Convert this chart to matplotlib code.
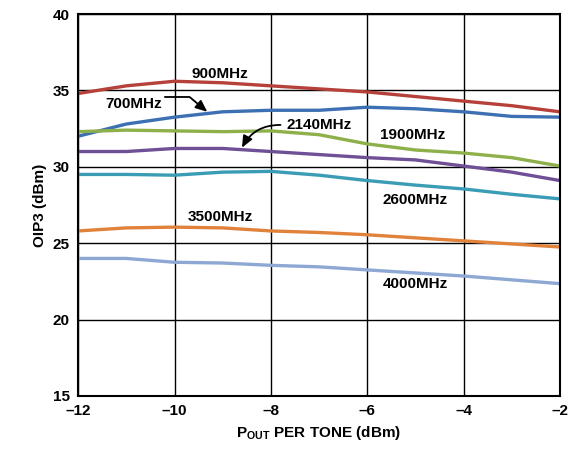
import numpy as np
import matplotlib.pyplot as plt

plt.rcParams['font.family'] = ['Liberation Sans', 'DejaVu Sans']
plt.rcParams['font.weight'] = 'bold'
plt.rcParams['mathtext.fontset'] = 'custom'
plt.rcParams['mathtext.rm'] = 'Liberation Sans:bold'
plt.rcParams['mathtext.bf'] = 'Liberation Sans:bold'

# output power per tone (dBm)
pout = [-12, -11, -10, -9, -8, -7, -6, -5, -4, -3, -2]

# OIP3 (dBm) per frequency
oip3_700 = [32.0, 32.8, 33.25, 33.6, 33.7, 33.7, 33.9, 33.8, 33.6, 33.3, 33.25]
oip3_900 = [34.8, 35.3, 35.6, 35.5, 35.3, 35.1, 34.9, 34.6, 34.3, 34.0, 33.6]
oip3_1900 = [32.3, 32.4, 32.35, 32.3, 32.35, 32.1, 31.5, 31.1, 30.9, 30.6, 30.05]
oip3_2140 = [31.0, 31.0, 31.2, 31.2, 31.0, 30.8, 30.6, 30.45, 30.05, 29.65, 29.1]
oip3_2600 = [29.5, 29.5, 29.45, 29.65, 29.7, 29.45, 29.1, 28.8, 28.55, 28.2, 27.9]
oip3_3500 = [25.8, 26.0, 26.05, 26.0, 25.8, 25.7, 25.55, 25.35, 25.15, 24.95, 24.75]
oip3_4000 = [24.0, 24.0, 23.75, 23.7, 23.55, 23.45, 23.25, 23.05, 22.85, 22.6, 22.35]

fig = plt.figure(figsize=(5.79, 4.53), dpi=100)
ax = fig.add_axes([0.135, 0.126, 0.832, 0.843])

ax.plot(pout, oip3_900, color='#b5413a', lw=2.4)
ax.plot(pout, oip3_700, color='#3d70b2', lw=2.4)
ax.plot(pout, oip3_1900, color='#8db04a', lw=2.4)
ax.plot(pout, oip3_2140, color='#6f4f96', lw=2.4)
ax.plot(pout, oip3_2600, color='#3a9cb5', lw=2.4)
ax.plot(pout, oip3_3500, color='#e0823a', lw=2.4)
ax.plot(pout, oip3_4000, color='#8ea8d4', lw=2.4)

# curve labels
lbl = dict(fontsize=11, fontweight='bold', ha='center', va='center')
ax.text(-9.05, 36.1, '900MHz', **lbl)
ax.text(-10.85, 34.1, '700MHz', **lbl)
ax.text(-7.0, 32.75, '2140MHz', **lbl)
ax.text(-5.05, 32.1, '1900MHz', **lbl)
ax.text(-5.0, 27.8, '2600MHz', **lbl)
ax.text(-9.05, 26.7, '3500MHz', **lbl)
ax.text(-5.0, 22.3, '4000MHz', **lbl)

head = '-|>,head_length=0.7,head_width=0.3'
ax.annotate('', xy=(-9.32, 33.6), xytext=(-10.2, 34.57),
            arrowprops=dict(arrowstyle=head, color='black', lw=1.3,
                            shrinkA=0, shrinkB=0,
                            connectionstyle='angle,angleA=0,angleB=140,rad=0'))
ax.annotate('', xy=(-8.6, 31.25), xytext=(-7.8, 32.74),
            arrowprops=dict(arrowstyle=head, color='black', lw=1.3,
                            shrinkA=0, shrinkB=0,
                            connectionstyle='arc3,rad=0.3'))

ax.set_xlim(-12, -2)
ax.set_ylim(15, 40)
ax.set_xticks([-12, -10, -8, -6, -4, -2])
ax.set_xticklabels(['\u201312', '\u201310', '\u20138', '\u20136', '\u20134', '\u20132'])
ax.set_yticks([15, 20, 25, 30, 35, 40])
ax.tick_params(length=0, labelsize=11, pad=6)
ax.grid(True, color='black', lw=1.0)
for s in ax.spines.values():
    s.set_linewidth(1.5)

ax.set_xlabel(r'P$_{\mathrm{OUT}}$ PER TONE (dBm)', fontsize=11, fontweight='bold')
ax.set_ylabel('OIP3 (dBm)', fontsize=11, fontweight='bold')

fig.savefig('out.png', dpi=100)
